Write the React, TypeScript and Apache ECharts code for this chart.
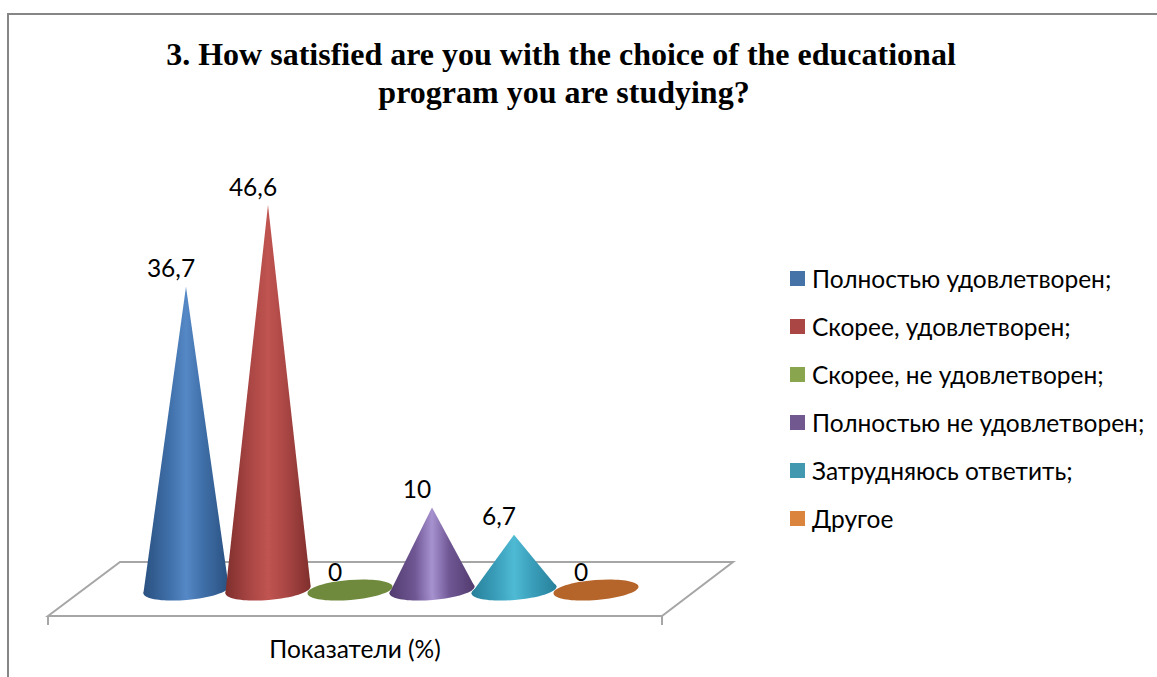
import React, { useEffect, useRef } from "react";
import * as echarts from "echarts";

const titleLines = [
  "3. How satisfied are you with the choice of the educational",
  "program you are studying?",
];
const categories = [
  "Полностью удовлетворен;",
  "Скорее, удовлетворен;",
  "Скорее, не удовлетворен;",
  "Полностью не удовлетворен;",
  "Затрудняюсь ответить;",
  "Другое",
];
const values = [36.7, 46.6, 0, 10, 6.7, 0];
const valueLabels = ["36,7", "46,6", "0", "10", "6,7", "0"];
const axisName = "Показатели (%)";
const swatchColors = ["#4573a7", "#aa4643", "#89a54e", "#71588f", "#4198af", "#db843d"];
const shadeColors = [
  ["#2a5181", "#3f6fa8", "#5588c6"],
  ["#7f2f2d", "#ab4745", "#c05450"],
  ["#6f8a3d", "#6f8a3d", "#6f8a3d"],
  ["#523b6e", "#6f5794", "#a792d0"],
  ["#27809a", "#3ba0bc", "#4fbad4"],
  ["#b5652a", "#b5652a", "#b5652a"],
];

const uiFont = "Lato, 'Noto Sans', sans-serif";
const TILT = 0.08;

function shade(i: number) {
  const [edge, body, mid] = shadeColors[i];
  return new echarts.graphic.LinearGradient(0, 0, 1, 0, [
    { offset: 0, color: edge },
    { offset: 0.3, color: body },
    { offset: 0.5, color: mid },
    { offset: 0.7, color: body },
    { offset: 1, color: edge },
  ]);
}

// Draws a single cone: a tilted elliptical base with a triangle rising to the value.
function coneRenderer(i: number) {
  return (_params: any, api: any) => {
    const value = api.value(1) as number;
    const [cx, cy] = api.coord([i, 0]);
    const [tx, ty] = api.coord([i, value]);
    const rx = api.size([1, 0])[0] * 0.52;
    const ry = 10;
    const children: any[] = [
      {
        type: "ellipse",
        x: cx,
        y: cy,
        rotation: TILT,
        shape: { cx: 0, cy: 0, rx, ry },
        style: { fill: shade(i) },
      },
    ];
    if (value > 0) {
      children.push({
        type: "polygon",
        shape: {
          points: [
            [tx, ty],
            [cx + rx, cy - rx * TILT],
            [cx, cy + 4],
            [cx - rx, cy + rx * TILT],
          ],
        },
        style: { fill: shade(i) },
      });
    }
    children.push({
      type: "text",
      x: tx - 15,
      y: ty - 19,
      style: {
        text: valueLabels[i],
        font: `24.5px ${uiFont}`,
        fill: "#000",
        align: "center",
        verticalAlign: "middle",
      },
    });
    return { type: "group", children };
  };
}

const App = () => {
  const ref = useRef<HTMLDivElement>(null);
  useEffect(() => {
    const chart = echarts.init(ref.current!, null, { renderer: "svg" });
    chart.setOption({
      animation: false,
      backgroundColor: "#fff",
      grid: { left: 145, top: 177, width: 492, height: 413 },
      xAxis: { type: "category", data: categories, show: false },
      yAxis: { type: "value", min: 0, max: 50, show: false },
      legend: {
        orient: "vertical",
        left: 785,
        top: 261,
        icon: "rect",
        itemWidth: 15,
        itemHeight: 15,
        itemGap: 23,
        data: categories,
        textStyle: { fontFamily: uiFont, fontSize: 24.5, color: "#000", padding: [0, 0, 0, 2] },
      },
      series: categories.map((name, i) => ({
        type: "custom",
        name,
        itemStyle: { color: swatchColors[i] },
        renderItem: coneRenderer(i),
        encode: { x: 0, y: 1 },
        data: [[i, values[i]]],
      })),
      graphic: [
        {
          type: "polyline",
          silent: true,
          shape: { points: [[8, 677], [8, 14], [1157, 14]] },
          style: { stroke: "#868686", lineWidth: 2, fill: "none" },
        },
        {
          type: "polygon",
          silent: true,
          shape: { points: [[48, 616], [120, 562], [733, 562], [662, 616]] },
          style: { stroke: "#a6a6a6", lineWidth: 2, fill: "#fff" },
        },
        {
          type: "line",
          silent: true,
          shape: { x1: 48, y1: 616, x2: 48, y2: 625 },
          style: { stroke: "#a6a6a6", lineWidth: 2 },
        },
        {
          type: "line",
          silent: true,
          shape: { x1: 662, y1: 616, x2: 662, y2: 625 },
          style: { stroke: "#a6a6a6", lineWidth: 2 },
        },
        ...titleLines.map((text, i) => ({
          type: "text",
          x: i === 0 ? 561 : 564,
          y: 54 + i * 38,
          style: {
            text,
            font: "bold 32px 'Liberation Serif', serif",
            fill: "#000",
            align: "center",
            verticalAlign: "middle",
          },
        })),
        {
          type: "text",
          x: 355,
          y: 648,
          style: {
            text: axisName,
            font: `24.5px ${uiFont}`,
            fill: "#000",
            align: "center",
            verticalAlign: "middle",
          },
        },
      ],
    });
    return () => chart.dispose();
  }, []);
  return <div ref={ref} style={{ position: "fixed", left: 0, top: 0, width: 1157, height: 677 }} />;
};

export default App;
